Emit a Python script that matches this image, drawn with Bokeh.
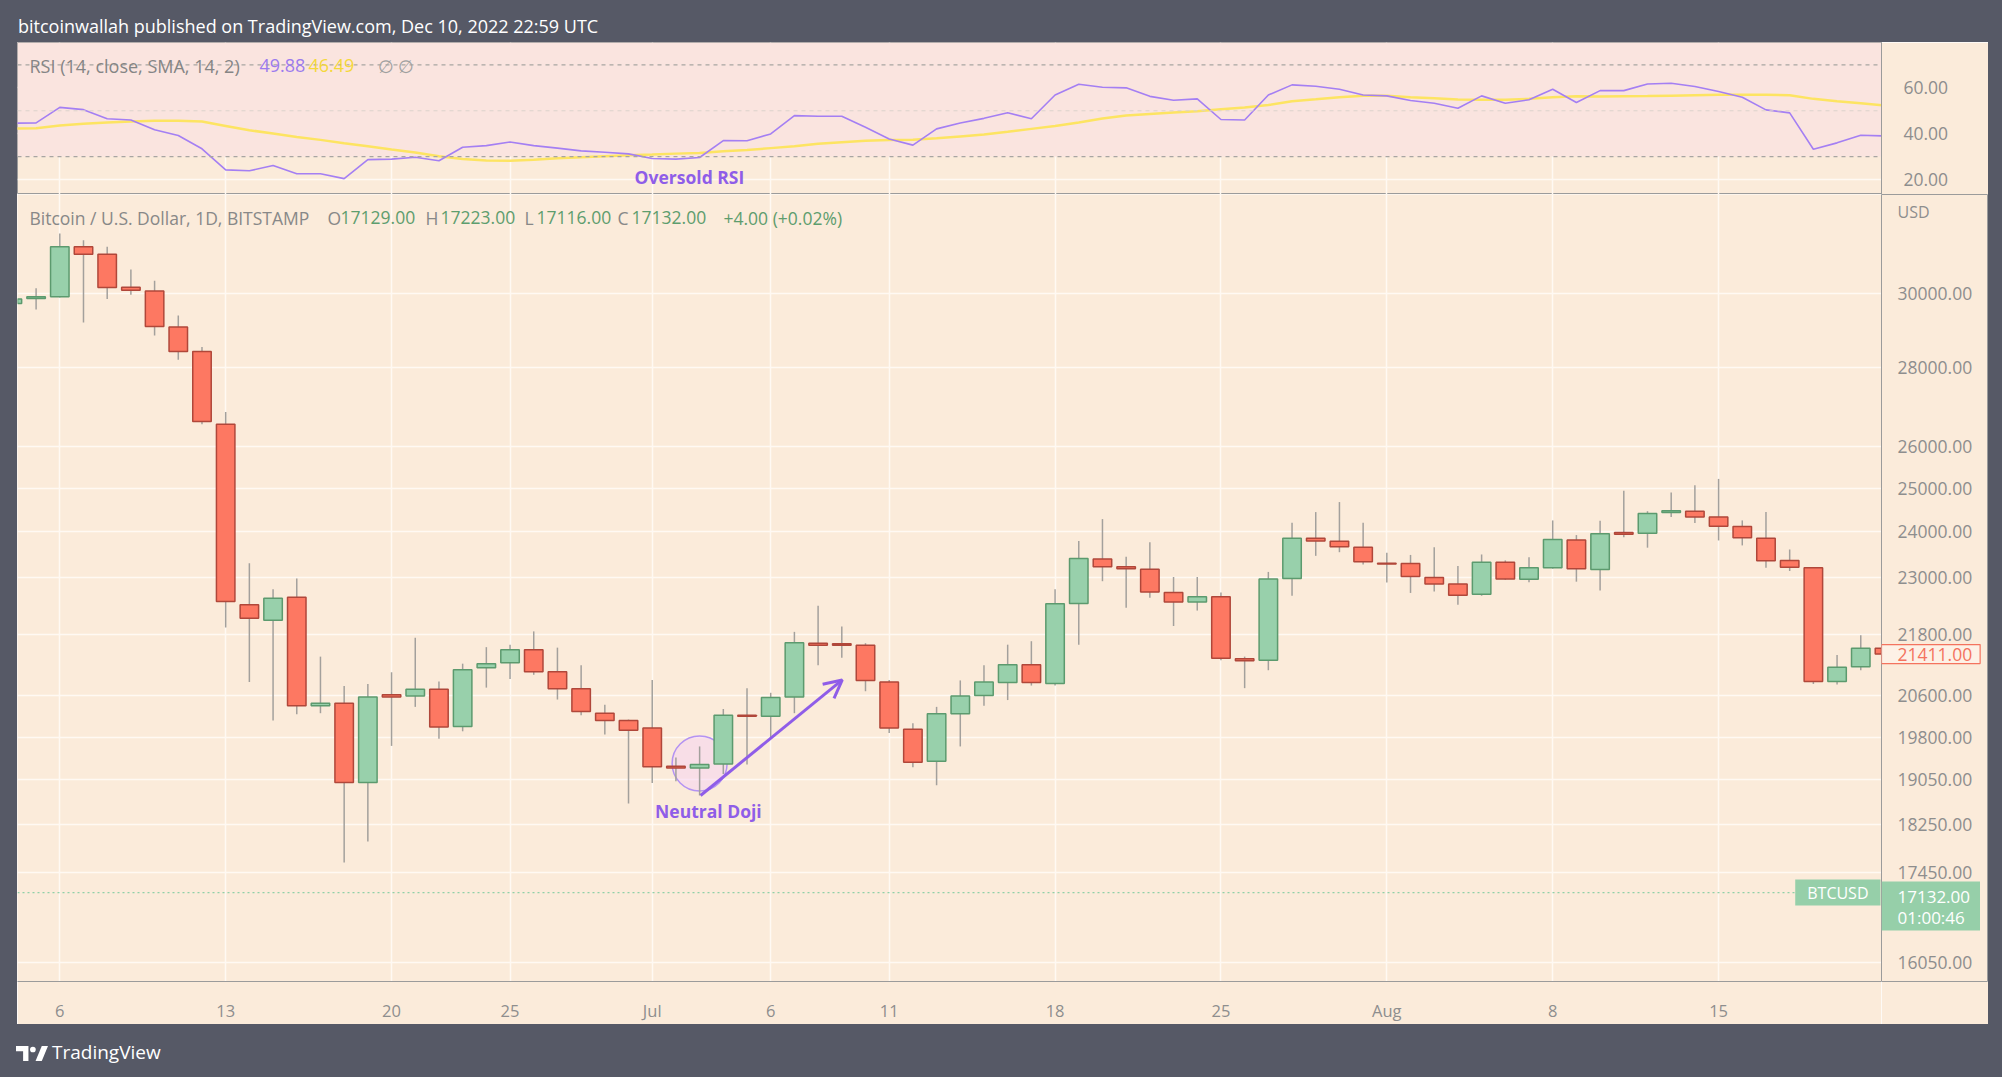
import pandas as pd
from bokeh.plotting import figure
from bokeh.models import (ColumnDataSource, Range1d, FixedTicker, PrintfTickFormatter,
                          Div, Label, Span, BoxAnnotation, Arrow, OpenHead)
from bokeh.layouts import column, row
from bokeh.embed import file_html
from bokeh.resources import INLINE
from bokeh.core.properties import value

# ---------------- data ----------------
dates = pd.date_range("2022-06-04", "2022-08-22", freq="D")
opens = [29710, 29850, 29900, 31330, 31110, 30170, 30060, 29070, 28410, 26540,
         22420, 22100, 22580, 20400, 20450, 18990, 20610, 20590, 20720, 20010,
         21140, 21240, 21500, 21060, 20730, 20260, 20120, 19980, 19280, 19250,
         19320, 20220, 20200, 20570, 21630, 21620, 21590, 20860, 19960, 19370,
         20250, 20600, 20850, 21200, 20830, 22450, 23400, 23230, 23180, 22680,
         22480, 22590, 21320, 21290, 22980, 23860, 23790, 23660, 23310, 23300,
         23000, 22860, 22640, 23330, 22960, 23210, 23820, 23170, 23990, 23970,
         24440, 24470, 24340, 24120, 23860, 23370, 23210, 20870, 21160, 21530]
highs = [29950, 30140, 31720, 31520, 31330, 30670, 30350, 29380, 28530, 26850,
         23310, 22750, 22980, 21360, 20780, 20820, 21050, 21740, 20870, 21220,
         21550, 21600, 21870, 21540, 21190, 20420, 20140, 20900, 19440, 19640,
         20340, 20740, 20650, 21860, 22400, 21970, 21630, 20900, 20070, 20380,
         20890, 21190, 21600, 21670, 22750, 23800, 24290, 23450, 23770, 23010,
         23010, 22680, 21360, 23120, 24210, 24450, 24680, 24210, 23540, 23490,
         23660, 23250, 23500, 23370, 23440, 24260, 23930, 24250, 24940, 24470,
         24900, 25070, 25220, 24260, 24450, 23610, 23210, 21390, 21790, 21560]
lows = [29480, 29550, 29880, 29190, 29840, 29960, 28840, 28190, 26540, 21950,
        20860, 20120, 20240, 20260, 17620, 17970, 19650, 20380, 19780, 19920,
        20750, 20920, 21000, 20520, 20220, 19860, 18620, 18980, 19010, 18760,
        19140, 19310, 19800, 20260, 21190, 21340, 20680, 19890, 19260, 18940,
        19640, 20400, 20510, 20790, 20790, 21600, 22920, 22360, 22570, 21980,
        22300, 21290, 20740, 21090, 22610, 23470, 23550, 23280, 22890, 22670,
        22700, 22420, 22610, 22950, 22900, 23190, 22910, 22720, 23880, 23650,
        24340, 24200, 23810, 23700, 23210, 23140, 20820, 20810, 21090, 21380]
closes = [29840, 29900, 31330, 31110, 30160, 30080, 29080, 28410, 26610, 22490,
          22140, 22560, 20400, 20450, 18990, 20570, 20570, 20720, 20000, 21100,
          21220, 21500, 21060, 20730, 20290, 20120, 19940, 19270, 19250, 19310,
          20220, 20200, 20560, 21640, 21590, 21590, 20890, 19980, 19350, 20250,
          20590, 20860, 21200, 20850, 22440, 23410, 23230, 23190, 22690, 22480,
          22590, 21330, 21280, 22970, 23860, 23800, 23670, 23340, 23290, 23020,
          22860, 22620, 23330, 22970, 23210, 23830, 23190, 23960, 23950, 24420,
          24480, 24340, 24130, 23870, 23360, 23220, 20870, 21150, 21530, 21411]
rsi = [44.6, 44.7, 51.5, 50.5, 46.5, 46.0, 41.7, 39.2, 33.4, 24.2,
       23.8, 26.1, 22.5, 22.5, 20.4, 28.7, 28.9, 29.7, 28.2, 34.1,
       34.8, 36.4, 34.8, 33.7, 32.5, 31.9, 31.2, 29.2, 28.9, 29.6,
       37.0, 36.9, 39.9, 47.9, 47.6, 47.6, 42.8, 37.7, 35.0, 42.1,
       44.7, 46.7, 49.1, 46.5, 56.9, 61.6, 60.3, 60.0, 56.3, 54.6,
       55.2, 46.2, 46.0, 56.9, 61.3, 60.7, 59.4, 56.9, 56.5, 54.5,
       53.3, 51.1, 56.5, 53.3, 54.8, 59.4, 53.6, 58.8, 58.8, 61.7,
       62.0, 60.6, 58.4, 55.9, 50.4, 49.1, 33.2, 36.0, 39.3, 39.0]
rsi_sma = [42.2, 42.4, 43.6, 44.3, 44.9, 45.3, 45.7, 45.7, 45.3, 43.4,
           41.5, 40.1, 38.6, 37.3, 35.8, 34.5, 33.1, 31.8, 30.2, 29.0,
           28.3, 28.2, 28.6, 29.3, 29.7, 30.2, 30.6, 30.9, 31.3, 31.6,
           32.3, 32.9, 33.7, 34.5, 35.6, 36.3, 36.9, 37.3, 37.4, 38.0,
           38.8, 39.6, 40.8, 42.1, 43.4, 44.9, 46.6, 47.9, 48.6, 49.2,
           49.8, 50.7, 51.4, 52.5, 54.2, 55.0, 55.9, 56.6, 56.6, 55.9,
           55.5, 54.9, 54.8, 54.8, 55.2, 55.9, 56.3, 56.2, 56.3, 56.4,
           56.6, 56.8, 57.0, 57.0, 57.0, 56.8, 55.2, 54.2, 53.3, 52.3]

price_ticks = [16050, 17450, 18250, 19050, 19800, 20600, 21800, 23000, 24000,
               25000, 26000, 28000, 30000]
rsi_ticks = [20, 40, 60]
xtick_dates = ["2022-06-06", "2022-06-13", "2022-06-20", "2022-06-25", "2022-07-01",
               "2022-07-06", "2022-07-11", "2022-07-18", "2022-07-25", "2022-08-01",
               "2022-08-08", "2022-08-15"]
xtick_labels = ["6", "13", "20", "25", "Jul", "6", "11", "18", "25", "Aug", "8", "15"]

last_price = 17132.0
last_visible_close = 21411.0
legend_ohlc = ["17129.00", "17223.00", "17116.00", "17132.00"]
legend_change = "+4.00 (+0.02%)"
rsi_now, sma_now = "49.88", "46.49"

# annotation anchors (date, price / rsi)
doji_date, doji_price = "2022-07-03", 19330
arrow_from = ("2022-07-03", 18760)
arrow_to = ("2022-07-09", 20900)
oversold_at = ("2022-07-03", 21.0)
neutral_at = ("2022-07-03", 18490)

# ---------------- style ----------------
DARK = "#565966"
CREAM = "#FBEBDA"
BAND = "#FAE4DF"
GRID = "#FFF9F3"
UP_FILL, UP_LINE = "#98D0AB", "#5C9A6E"
DN_FILL, DN_LINE = "#FD7862", "#B0473A"
WICK = "#A3A09C"
RSI_C, SMA_C = "#A47FF3", "#FDE462"
PURPLE = "#8F5DE8"
AX_TXT = "#8E8E8E"
GREEN_TXT = "#5E9D6E"
FRAME_LINE = "#9B9B9B"
FONT = "Open Sans"

ref = pd.Timestamp("2022-06-06")
def dnum(s):
    return (pd.Timestamp(s) - ref).days

x = [(d - ref).days for d in dates]
up = [c >= o for o, c in zip(opens, closes)]
src = ColumnDataSource(dict(
    x=x, high=highs, low=lows,
    top=[max(o, c) for o, c in zip(opens, closes)],
    bottom=[min(o, c) for o, c in zip(opens, closes)],
    fill=[UP_FILL if u else DN_FILL for u in up],
    line=[UP_LINE if u else DN_LINE for u in up],
))
xticks = [dnum(s) for s in xtick_dates]
overrides = {t: l for t, l in zip(xticks, xtick_labels)}

x_range = Range1d(-1.785, 76.875)
W = 1971
RIGHT = 107
FRAME_W = W - RIGHT

def slabel(fig, text, sx, sy, color, size="17.5px", style="normal", align="left"):
    fig.add_layout(Label(x=sx, y=sy, x_units="screen", y_units="screen", text=text,
                         text_color=color, text_font=FONT, text_font_size=size,
                         text_font_style=style, text_align=align, text_baseline="middle"))

# ---------------- RSI pane ----------------
rp = figure(width=W, height=152, x_range=x_range, y_range=Range1d(13.46, 79.8),
            x_axis_location=None, y_axis_location="right",
            output_backend="svg", toolbar_location=None, min_border=0,
            min_border_right=RIGHT, background_fill_color=CREAM,
            border_fill_color=CREAM, outline_line_color=FRAME_LINE)
rp.add_layout(BoxAnnotation(bottom=30, fill_color=BAND, fill_alpha=1.0, line_color=None, level="underlay"))
rp.xgrid.ticker = FixedTicker(ticks=xticks)
rp.ygrid.ticker = FixedTicker(ticks=rsi_ticks)
for g in (rp.xgrid, rp.ygrid):
    g.grid_line_color = GRID
    g.grid_line_width = 1.5
rp.add_layout(Span(location=70, dimension="width", line_color="#A8A5A2", line_dash="4 4", line_width=1.2))
rp.add_layout(Span(location=30, dimension="width", line_color="#A8A5A2", line_dash="4 4", line_width=1.2))
rp.add_layout(Span(location=50, dimension="width", line_color="#DCD2CB", line_dash="4 4", line_width=1.0))
rp.line(x, rsi_sma, line_color=SMA_C, line_width=2.5)
rp.line(x, rsi, line_color=RSI_C, line_width=1.6)
ya = rp.yaxis[0]
ya.ticker = FixedTicker(ticks=rsi_ticks)
ya.formatter = PrintfTickFormatter(format="%.2f")
ya.major_tick_line_color = None
ya.minor_tick_line_color = None
ya.axis_line_color = FRAME_LINE
ya.major_label_text_color = AX_TXT
ya.major_label_text_font = FONT
ya.major_label_text_font_size = "17.5px"
ya.major_label_standoff = 16

slabel(rp, "RSI (14, close, SMA, 14, 2)", 12, 129, "#858585", size="18px")
slabel(rp, rsi_now, 242, 129, "#9C7BEE", size="18px")
slabel(rp, sma_now, 291, 129, "#F5D83A", size="18px")
slabel(rp, "\u2205 \u2205", 360, 129, "#A0A0A0", size="18px")
rp.add_layout(Label(x=dnum(oversold_at[0]) - 0.43, y=oversold_at[1], text="Oversold RSI",
                    text_color=PURPLE, text_font=FONT, text_font_size="17.5px",
                    text_font_style="bold", text_align="center", text_baseline="middle"))

# ---------------- price pane ----------------
price_range = Range1d(15766, 32900)
mp = figure(width=FRAME_W, height=830, x_range=x_range, y_range=price_range,
            y_axis_type="log", y_axis_location=None,
            output_backend="svg", toolbar_location=None, min_border=0,
            min_border_bottom=41,
            background_fill_color=CREAM, border_fill_color=CREAM, outline_line_color=None)
mp.xgrid.ticker = FixedTicker(ticks=xticks)
mp.ygrid.ticker = FixedTicker(ticks=price_ticks)
for g in (mp.xgrid, mp.ygrid):
    g.grid_line_color = GRID
    g.grid_line_width = 1.5

mp.add_layout(Span(location=last_price, dimension="width", line_color="#8FD0A8",
                   line_dash="2 3", line_width=1.2))
mp.scatter([dnum(doji_date)], [doji_price], size=55, marker="circle",
           fill_color="#F6D3F3", fill_alpha=0.55, line_color="#B493F2", line_width=1.5)
mp.segment(x0="x", y0="high", x1="x", y1="low", source=src, line_color=WICK, line_width=1.5)
mp.vbar(x="x", width=0.78, top="top", bottom="bottom", source=src,
        fill_color="fill", line_color="line", line_width=1.5)
mp.add_layout(Arrow(end=OpenHead(size=18, line_color=PURPLE, line_width=3),
                    x_start=dnum(arrow_from[0]) + 0.04, y_start=arrow_from[1],
                    x_end=dnum(arrow_to[0]) + 0.02, y_end=arrow_to[1],
                    line_color=PURPLE, line_width=3))
mp.add_layout(Label(x=dnum(neutral_at[0]) + 0.37, y=neutral_at[1], text="Neutral Doji",
                    text_color=PURPLE, text_font=FONT, text_font_size="17.5px",
                    text_font_style="bold", text_align="center", text_baseline="middle"))

ax = mp.xaxis[0]
ax.ticker = FixedTicker(ticks=xticks)
ax.major_label_overrides = overrides
ax.major_tick_line_color = None
ax.minor_tick_line_color = None
ax.axis_line_color = FRAME_LINE
ax.major_label_text_color = AX_TXT
ax.major_label_text_font = FONT
ax.major_label_text_font_size = "16.5px"
ax.major_label_standoff = 11

FH = 789
slabel(mp, "Bitcoin / U.S. Dollar, 1D, BITSTAMP", 12, FH - 25, "#888888")
for letter, val, lx, vx in zip(["O", "H", "L", "C"], legend_ohlc,
                               [310, 408, 507, 600], [323, 423, 519, 614]):
    slabel(mp, letter, lx, FH - 25, "#888888")
    slabel(mp, val, vx, FH - 25, GREEN_TXT)
slabel(mp, legend_change, 706, FH - 25, GREEN_TXT)
mp.add_layout(Label(x=FRAME_W - 1, x_units="screen", y=last_price, y_units="data",
                    text="BTCUSD", text_color="#FFFFFF",
                    text_font=FONT, text_font_size="16px", text_align="right",
                    text_baseline="middle", background_fill_color="#96CFA9",
                    border_line_color=None,
                    padding=dict(left=12, right=12, top=2, bottom=2)))

# ---------------- price scale (right) ----------------
sp = figure(width=RIGHT, height=830, x_range=Range1d(0, RIGHT), y_range=price_range,
            y_axis_type="log", x_axis_location=None, y_axis_location=None,
            output_backend="svg", toolbar_location=None, min_border=0,
            min_border_bottom=41, background_fill_color=CREAM,
            border_fill_color=CREAM, outline_line_color=FRAME_LINE)
sp.xgrid.visible = False
sp.ygrid.visible = False
sp.text(x=[16] * len(price_ticks), y=price_ticks,
        text=[f"{t:.2f}" for t in price_ticks], text_color=AX_TXT,
        text_font=value(FONT), text_font_size=value("17.5px"),
        text_align="left", text_baseline="middle")
slabel(sp, "USD", 16, FH - 19, AX_TXT, size="16px")
sp.add_layout(Label(x=0, x_units="screen", y=last_visible_close, y_units="data",
                    text=f"{last_visible_close:.2f}", text_color="#F4735E",
                    text_font=FONT, text_font_size="17.5px", text_align="left",
                    text_baseline="middle", background_fill_color="#FDF1E6",
                    border_line_color="#F4735E", border_line_width=1.2,
                    padding=dict(left=16, right=8, top=3, bottom=3)))
sp.add_layout(Label(x=0, x_units="screen", y=last_price, y_units="data",
                    text=f"{last_price:.2f}\n01:00:46", text_color="#FFFFFF",
                    text_font=FONT, text_font_size="17px", text_align="left",
                    text_line_height=0.95,
                    text_baseline="top", y_offset=11, background_fill_color="#96CFA9",
                    border_line_color=None,
                    padding=dict(left=16, right=10, top=3, bottom=1)))

# ---------------- frame ----------------
title_div = Div(text='<div style="font-family:\'Open Sans\';font-size:18px;color:#ffffff;'
                     'padding:14px 0 0 18px;white-space:nowrap;">'
                     'bitcoinwallah published on TradingView.com, Dec 10, 2022 22:59 UTC</div>',
                width=2002, height=42, margin=0, styles={"background-color": DARK})
logo = ('<svg width="32" height="17" viewBox="0 0 36 19" style="margin-right:4px">'
        '<path d="M0 1h14v17H8V7H0z" fill="#ffffff"/>'
        '<circle cx="19" cy="5" r="3.2" fill="#ffffff"/>'
        '<path d="M22 18L29 1h7l-7 17z" fill="#ffffff"/></svg>')
footer_div = Div(text='<div style="display:flex;align-items:center;height:53px;box-sizing:border-box;'
                      'padding:5px 0 0 16px;">' + logo +
                      '<span style="font-family:\'Open Sans\';font-size:19px;color:#ffffff;">TradingView</span></div>',
                 width=2002, height=53, margin=0, styles={"background-color": DARK})
left_div = Div(text="", width=17, height=982, margin=0, styles={"background-color": DARK})
right_div = Div(text="", width=14, height=982, margin=0, styles={"background-color": DARK})

layout = column(title_div,
                row(left_div,
                    column(rp, row(mp, sp, spacing=0), spacing=0),
                    right_div, spacing=0),
                footer_div, spacing=0)

open("out.html", "w").write(file_html(layout, INLINE))
